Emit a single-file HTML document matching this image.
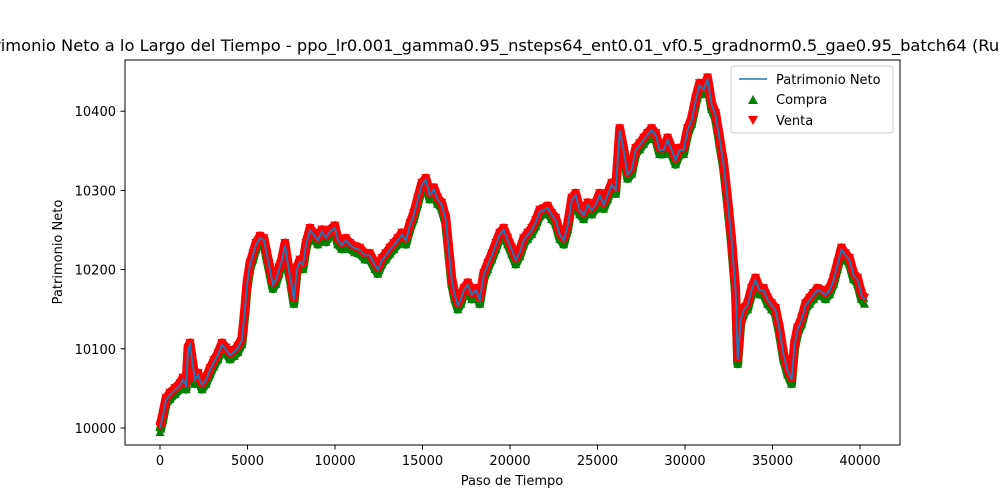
<!DOCTYPE html>
<html><head><meta charset="utf-8">
<style>
html,body{margin:0;padding:0;background:#fff;}
svg{display:block;font-family:"DejaVu Sans","Liberation Sans",sans-serif;}
</style></head>
<body>
<svg id="chart" width="1000" height="500" viewBox="0 0 1000 500">
  <rect x="0" y="0" width="1000" height="500" fill="#fff"/>
  <text x="500" y="51" font-size="16.3" text-anchor="middle" fill="#000">Patrimonio Neto a lo Largo del Tiempo - ppo_lr0.001_gamma0.95_nsteps64_ent0.01_vf0.5_gradnorm0.5_gae0.95_batch64 (Run 1)</text>
  <g id="marks"></g>
  <g id="axes"></g>
  <rect x="125" y="60" width="775" height="385" fill="none" stroke="#000" stroke-width="1"/>
  <text x="512" y="485" font-size="13" text-anchor="middle">Paso de Tiempo</text>
  <text x="62" y="252" font-size="13" text-anchor="middle" transform="rotate(-90 62 252)">Patrimonio Neto</text>
  <g>
    <rect x="731" y="66" width="162" height="67" rx="3" fill="#fff" fill-opacity="0.8" stroke="#ccc"/>
    <g>
      <line x1="739" y1="79" x2="767" y2="79" stroke="#1f77b4" stroke-width="1.5"/>
      <text x="776" y="84" font-size="13">Patrimonio Neto</text>
    </g>
    <g>
      <polygon points="753,95 748,104 758,104" fill="green"/>
      <text x="776" y="104" font-size="13">Compra</text>
    </g>
    <g>
      <polygon points="748,116 758,116 753,125" fill="red"/>
      <text x="776" y="125" font-size="13">Venta</text>
    </g>
  </g>
</svg>
<script>
const steps = [0,170,340,570,860,1140,1310,1490,1600,1710,1830,2000,2170,2400,2630,2860,3080,3310,3540,3770,4000,4230,4450,4680,4850,4970,5140,5310,5480,5710,5940,6110,6280,6450,6620,6800,6970,7140,7310,7480,7650,7820,7990,8170,8340,8570,8790,9020,9250,9480,9710,9990,10160,10390,10620,10850,11130,11420,11710,11990,12280,12450,12680,12900,13130,13360,13590,13820,14050,14280,14500,14730,14960,15190,15420,15650,15870,16100,16330,16500,16670,16840,17020,17190,17360,17590,17820,18040,18270,18500,18730,18960,19190,19410,19640,19870,20100,20330,20560,20780,21010,21240,21470,21700,21930,22150,22380,22610,22840,23070,23300,23530,23750,23980,24210,24440,24670,24900,25120,25350,25580,25810,26040,26270,26490,26720,26950,27180,27410,27640,27860,28090,28320,28550,28780,29010,29240,29460,29690,29920,30150,30380,30610,30830,31060,31290,31520,31750,31980,32210,32430,32660,32890,33010,33180,33350,33580,33800,34030,34260,34490,34720,34950,35170,35400,35630,35860,36090,36260,36430,36660,36890,37120,37340,37570,37800,38030,38260,38490,38710,38940,39170,39400,39630,39860,40080,40260];
const netWorth = [10000,10016,10035,10042,10048,10054,10061,10054,10099,10105,10086,10061,10067,10054,10061,10073,10083,10092,10105,10099,10092,10096,10101,10111,10149,10181,10206,10218,10231,10240,10237,10218,10200,10181,10187,10200,10212,10231,10206,10187,10162,10200,10210,10206,10231,10250,10244,10237,10248,10240,10248,10253,10237,10231,10237,10231,10227,10225,10218,10218,10206,10200,10212,10218,10225,10231,10237,10244,10237,10256,10269,10288,10307,10313,10294,10301,10288,10282,10263,10225,10187,10168,10155,10162,10174,10181,10168,10174,10162,10193,10206,10218,10231,10244,10250,10237,10225,10212,10222,10237,10244,10250,10260,10273,10275,10278,10269,10263,10244,10237,10256,10288,10294,10275,10269,10282,10275,10282,10294,10282,10294,10307,10301,10376,10351,10320,10326,10351,10357,10364,10370,10376,10370,10351,10351,10364,10351,10338,10351,10351,10376,10389,10414,10433,10427,10440,10408,10395,10364,10332,10288,10237,10174,10086,10136,10149,10155,10174,10187,10174,10174,10162,10155,10149,10124,10092,10073,10061,10105,10124,10136,10155,10162,10168,10174,10172,10168,10174,10187,10206,10225,10218,10212,10193,10187,10168,10162];
const xTicks = [0,5000,10000,15000,20000,25000,30000,35000,40000];
const yTicks = [10000,10100,10200,10300,10400];

const NS = "http://www.w3.org/2000/svg";
const xScale = v => 160 + v * 0.0175;
const yScale = v => 428 - (v - 10000) * 0.792;
function mk(tag, attrs, parent) {
  const e = document.createElementNS(NS, tag);
  for (const k in attrs) e.setAttribute(k, attrs[k]);
  parent.appendChild(e);
  return e;
}
const axes = document.getElementById('axes');
xTicks.forEach(t => {
  const x = xScale(t);
  const l = mk('line', {x1:x, y1:445, x2:x, y2:449.5, stroke:'#000'}, axes);
  
  
  const tx = mk('text', {x:x, y:465, 'font-size':13, 'text-anchor':'middle'}, axes);
  tx.textContent = t;
  
  
});
yTicks.forEach(t => {
  const y = yScale(t);
  const l = mk('line', {x1:120.5, y1:y, x2:125, y2:y, stroke:'#000'}, axes);
  
  
  const tx = mk('text', {x:116, y:y+5, 'font-size':13, 'text-anchor':'end'}, axes);
  tx.textContent = t;
  
  
});
const marks = document.getElementById('marks');
const buyPts = steps.map((s, i) => xScale(s) + ',' + (yScale(netWorth[i]) + 4)).join(' ');
const sellPts = steps.map((s, i) => xScale(s) + ',' + (yScale(netWorth[i]) - 2)).join(' ');
const buyBand = mk('polyline', {points:buyPts, fill:'none', stroke:'green', 'stroke-width':9, 'stroke-linejoin':'round'}, marks);


const buyG = mk('g', {fill:'green'}, marks);


steps.forEach((s, i) => {
  const x = xScale(s), y = yScale(netWorth[i]);
  const b = mk('polygon', {points:`${x},${y-1} ${x-4.5},${y+8} ${x+4.5},${y+8}`}, buyG);
  
  
});
const sellBand = mk('polyline', {points:sellPts, fill:'none', stroke:'red', 'stroke-width':9, 'stroke-linejoin':'round'}, marks);


const sellG = mk('g', {fill:'red'}, marks);


steps.forEach((s, i) => {
  const x = xScale(s), y = yScale(netWorth[i]);
  const r = mk('polygon', {points:`${x-4.5},${y-6} ${x+4.5},${y-6} ${x},${y+3}`}, sellG);
  
  
});
const pts = steps.map((s, i) => xScale(s) + ',' + yScale(netWorth[i])).join(' ');
const line = mk('polyline', {points:pts, fill:'none', stroke:'#1f77b4', 'stroke-width':2}, marks);


</script>
</body></html>
